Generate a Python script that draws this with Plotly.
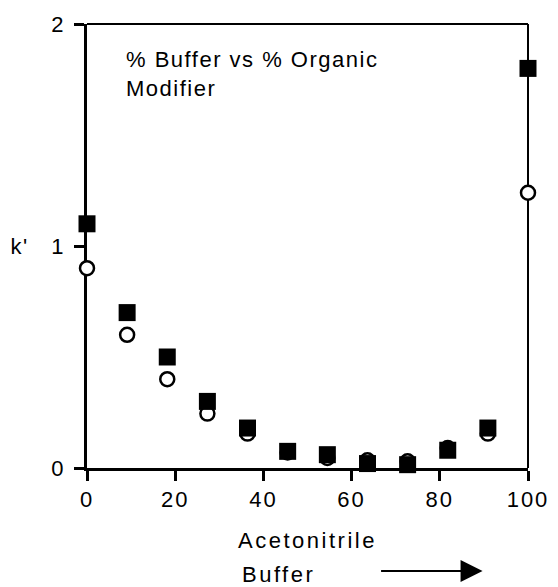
import plotly.graph_objects as go

# % acetonitrile in the mobile phase and retention factors k'
acetonitrile_pct = [0, 9.1, 18.2, 27.3, 36.4, 45.5, 54.5, 63.6, 72.7, 81.8, 90.9, 100]
k_filled = [1.10, 0.70, 0.50, 0.30, 0.18, 0.075, 0.06, 0.02, 0.015, 0.08, 0.18, 1.80]
k_open = [0.90, 0.60, 0.40, 0.245, 0.155, 0.07, 0.045, 0.035, 0.03, 0.09, 0.155, 1.24]

x_ticks = [0, 20, 40, 60, 80, 100]
y_ticks = [0, 1, 2]

FONT = "Liberation Sans, Arial, sans-serif"
FSIZE = 22

fig = go.Figure()

fig.add_trace(go.Scatter(
    x=acetonitrile_pct, y=k_open, mode="markers",
    marker=dict(symbol="circle", size=14, color="white",
                line=dict(color="black", width=2.5)),
    cliponaxis=False, showlegend=False,
))
fig.add_trace(go.Scatter(
    x=acetonitrile_pct, y=k_filled, mode="markers",
    marker=dict(symbol="square", size=17, color="black",
                line=dict(color="black", width=0)),
    cliponaxis=False, showlegend=False,
))

axis_common = dict(
    showgrid=False, zeroline=False, showline=True, linecolor="black",
    linewidth=3, ticks="outside", ticklen=10, tickwidth=2.5,
    tickcolor="black", layer="below traces",
    tickfont=dict(family=FONT, size=FSIZE, color="black"),
)

fig.update_xaxes(
    range=[0, 100], tickvals=x_ticks, ticktext=[str(v) for v in x_ticks],
    title=dict(text="Acetonitrile", font=dict(family=FONT, size=FSIZE, color="black"),
               standoff=22),
    **axis_common,
)
fig.update_yaxes(
    range=[0, 2], tickvals=y_ticks, ticktext=[str(v) for v in y_ticks],
    ticklabelstandoff=6,
    **axis_common,
)

# top and right frame lines
fig.add_shape(type="line", xref="paper", yref="paper", x0=0, x1=1, y0=1, y1=1,
              line=dict(color="black", width=2), layer="below")
fig.add_shape(type="line", xref="paper", yref="paper", x0=1, x1=1, y0=0, y1=1,
              line=dict(color="black", width=2), layer="below")

fig.add_annotation(
    text="% Buffer vs % Organic<br>Modifier", xref="paper", yref="paper",
    x=0.085, y=0.887, xanchor="left", yanchor="middle", align="left",
    showarrow=False, font=dict(family=FONT, size=FSIZE, color="black"),
)
fig.add_annotation(
    text="k'", xref="paper", yref="paper", x=-0.152, y=0.498,
    xanchor="center", yanchor="middle", showarrow=False,
    font=dict(family=FONT, size=FSIZE, color="black"),
)
fig.add_annotation(
    text="Buffer", xref="paper", yref="paper", x=0.347, y=-0.239,
    xanchor="left", yanchor="middle", align="left", showarrow=False,
    font=dict(family=FONT, size=FSIZE, color="black"),
)
fig.add_annotation(
    text="", xref="paper", yref="paper", x=0.897, y=-0.232,
    ax=-103, ay=0, showarrow=True, arrowhead=2, arrowsize=2.2,
    arrowwidth=2, arrowcolor="black",
)

fig.update_layout(
    width=558, height=587,
    margin=dict(l=87, r=24, t=20, b=119),
    paper_bgcolor="white", plot_bgcolor="white",
    font=dict(family=FONT, size=FSIZE, color="black"),
)

# wider tracking for the axis labels and the caption
spacing_js = """
document.querySelectorAll('.xtick text').forEach(function(t){
  t.style.letterSpacing = '2px';
});
document.querySelectorAll('.g-xtitle text').forEach(function(t){
  t.style.letterSpacing = '2.5px';
});
document.querySelectorAll('.annotation-text').forEach(function(t){
  t.style.letterSpacing = (t.textContent.indexOf('Buffer') === 0) ? '2.5px' : '1.5px';
});
"""

fig.write_html("out.html", post_script=spacing_js)
